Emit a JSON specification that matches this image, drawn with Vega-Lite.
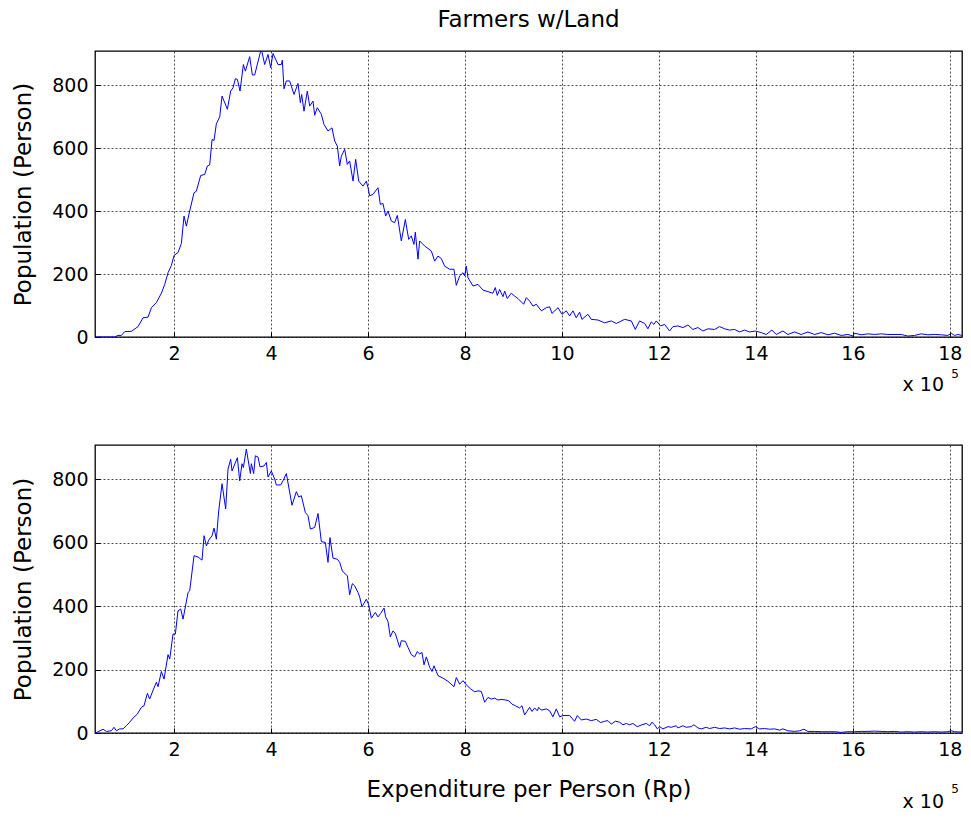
{
  "$schema": "https://vega.github.io/schema/vega-lite/v6.json",
  "background": "white",
  "padding": {"left": 12, "top": 8, "right": 5, "bottom": 5},
  "config": {
    "font": "DejaVu Sans",
    "view": {"stroke": "#000", "strokeWidth": 1.3},
    "axis": {
      "domain": false, "grid": true, "gridColor": "#000", "gridDash": [2, 2], "gridOpacity": 0.7, "gridWidth": 1,
      "tickColor": "#000", "tickSize": -5, "labelFont": "DejaVu Sans", "labelFontSize": 19, "labelColor": "#000",
      "labelFlush": false, "labelOverlap": false,
      "titleFont": "DejaVu Sans", "titleFontSize": 23, "titleFontWeight": "normal", "titleColor": "#000"
    }
  },
  "datasets": {
    "top": [
      {"exp":0.37,"pop":0},{"exp":0.777,"pop":0},{"exp":0.845,"pop":5},{"exp":0.914,"pop":5},{"exp":0.983,"pop":17},{"exp":1.12,"pop":18},{"exp":1.258,"pop":33},{"exp":1.361,"pop":61},{"exp":1.464,"pop":63},{"exp":1.533,"pop":93},{"exp":1.636,"pop":109},{"exp":1.739,"pop":139},{"exp":1.808,"pop":167},{"exp":1.876,"pop":204},{"exp":1.945,"pop":227},{"exp":2.0,"pop":259},{"exp":2.082,"pop":268},{"exp":2.151,"pop":297},{"exp":2.206,"pop":384},{"exp":2.254,"pop":352},{"exp":2.323,"pop":400},{"exp":2.412,"pop":458},{"exp":2.46,"pop":463},{"exp":2.55,"pop":513},{"exp":2.632,"pop":516},{"exp":2.687,"pop":543},{"exp":2.735,"pop":546},{"exp":2.784,"pop":627},{"exp":2.825,"pop":624},{"exp":2.873,"pop":677},{"exp":2.942,"pop":699},{"exp":2.99,"pop":765},{"exp":3.1,"pop":723},{"exp":3.168,"pop":781},{"exp":3.216,"pop":791},{"exp":3.265,"pop":820},{"exp":3.306,"pop":818},{"exp":3.361,"pop":781},{"exp":3.43,"pop":865},{"exp":3.471,"pop":844},{"exp":3.56,"pop":890},{"exp":3.615,"pop":832},{"exp":3.663,"pop":832},{"exp":3.787,"pop":908},{"exp":3.814,"pop":905},{"exp":3.869,"pop":865},{"exp":3.938,"pop":897},{"exp":3.993,"pop":855},{"exp":4.041,"pop":900},{"exp":4.144,"pop":865},{"exp":4.213,"pop":865},{"exp":4.233,"pop":879},{"exp":4.268,"pop":788},{"exp":4.316,"pop":813},{"exp":4.385,"pop":813},{"exp":4.474,"pop":770},{"exp":4.557,"pop":805},{"exp":4.605,"pop":744},{"exp":4.632,"pop":770},{"exp":4.68,"pop":717},{"exp":4.749,"pop":781},{"exp":4.797,"pop":733},{"exp":4.866,"pop":749},{"exp":4.9,"pop":704},{"exp":4.955,"pop":728},{"exp":5.038,"pop":707},{"exp":5.093,"pop":675},{"exp":5.175,"pop":654},{"exp":5.258,"pop":664},{"exp":5.313,"pop":622},{"exp":5.368,"pop":606},{"exp":5.416,"pop":543},{"exp":5.45,"pop":574},{"exp":5.519,"pop":596},{"exp":5.574,"pop":548},{"exp":5.622,"pop":559},{"exp":5.691,"pop":495},{"exp":5.746,"pop":564},{"exp":5.808,"pop":495},{"exp":5.897,"pop":479},{"exp":5.966,"pop":495},{"exp":6.0,"pop":474},{"exp":6.035,"pop":448},{"exp":6.103,"pop":453},{"exp":6.206,"pop":474},{"exp":6.254,"pop":421},{"exp":6.309,"pop":424},{"exp":6.364,"pop":384},{"exp":6.412,"pop":400},{"exp":6.481,"pop":368},{"exp":6.55,"pop":363},{"exp":6.605,"pop":386},{"exp":6.687,"pop":305},{"exp":6.77,"pop":373},{"exp":6.839,"pop":310},{"exp":6.893,"pop":321},{"exp":6.948,"pop":294},{"exp":6.976,"pop":333},{"exp":7.031,"pop":247},{"exp":7.065,"pop":305},{"exp":7.168,"pop":289},{"exp":7.306,"pop":273},{"exp":7.375,"pop":241},{"exp":7.443,"pop":257},{"exp":7.512,"pop":249},{"exp":7.581,"pop":225},{"exp":7.684,"pop":215},{"exp":7.773,"pop":215},{"exp":7.821,"pop":164},{"exp":7.89,"pop":194},{"exp":7.959,"pop":204},{"exp":7.993,"pop":194},{"exp":8.027,"pop":225},{"exp":8.062,"pop":188},{"exp":8.165,"pop":162},{"exp":8.268,"pop":167},{"exp":8.371,"pop":149},{"exp":8.474,"pop":144},{"exp":8.577,"pop":139},{"exp":8.625,"pop":157},{"exp":8.666,"pop":132},{"exp":8.715,"pop":151},{"exp":8.784,"pop":128},{"exp":8.818,"pop":146},{"exp":8.873,"pop":122},{"exp":8.955,"pop":139},{"exp":9.024,"pop":130},{"exp":9.093,"pop":122},{"exp":9.21,"pop":104},{"exp":9.265,"pop":125},{"exp":9.334,"pop":114},{"exp":9.402,"pop":98},{"exp":9.471,"pop":104},{"exp":9.574,"pop":83},{"exp":9.677,"pop":93},{"exp":9.746,"pop":96},{"exp":9.794,"pop":75},{"exp":9.918,"pop":93},{"exp":10.0,"pop":72},{"exp":10.089,"pop":83},{"exp":10.158,"pop":67},{"exp":10.227,"pop":83},{"exp":10.295,"pop":61},{"exp":10.364,"pop":79},{"exp":10.412,"pop":56},{"exp":10.536,"pop":72},{"exp":10.604,"pop":56},{"exp":10.742,"pop":54},{"exp":10.88,"pop":45},{"exp":11.017,"pop":51},{"exp":11.12,"pop":43},{"exp":11.292,"pop":56},{"exp":11.43,"pop":51},{"exp":11.512,"pop":24},{"exp":11.601,"pop":51},{"exp":11.705,"pop":43},{"exp":11.773,"pop":26},{"exp":11.842,"pop":48},{"exp":11.897,"pop":40},{"exp":11.945,"pop":51},{"exp":12.034,"pop":35},{"exp":12.117,"pop":40},{"exp":12.22,"pop":19},{"exp":12.289,"pop":33},{"exp":12.392,"pop":35},{"exp":12.495,"pop":30},{"exp":12.598,"pop":38},{"exp":12.701,"pop":24},{"exp":12.804,"pop":30},{"exp":12.907,"pop":19},{"exp":13.01,"pop":26},{"exp":13.148,"pop":24},{"exp":13.251,"pop":33},{"exp":13.354,"pop":26},{"exp":13.457,"pop":22},{"exp":13.56,"pop":24},{"exp":13.664,"pop":16},{"exp":13.767,"pop":22},{"exp":13.87,"pop":16},{"exp":13.986,"pop":19},{"exp":14.11,"pop":14},{"exp":14.213,"pop":8},{"exp":14.33,"pop":22},{"exp":14.419,"pop":8},{"exp":14.557,"pop":19},{"exp":14.66,"pop":8},{"exp":14.797,"pop":16},{"exp":14.935,"pop":8},{"exp":15.072,"pop":16},{"exp":15.21,"pop":8},{"exp":15.347,"pop":14},{"exp":15.485,"pop":7},{"exp":15.622,"pop":12},{"exp":15.759,"pop":5},{"exp":15.897,"pop":8},{"exp":16.0,"pop":3},{"exp":16.034,"pop":12},{"exp":16.172,"pop":7},{"exp":16.309,"pop":10},{"exp":16.447,"pop":8},{"exp":16.584,"pop":10},{"exp":16.722,"pop":8},{"exp":16.996,"pop":8},{"exp":17.134,"pop":3},{"exp":17.272,"pop":5},{"exp":17.409,"pop":10},{"exp":17.546,"pop":7},{"exp":17.684,"pop":8},{"exp":17.821,"pop":7},{"exp":17.959,"pop":5},{"exp":18.027,"pop":12},{"exp":18.096,"pop":5},{"exp":18.165,"pop":8},{"exp":18.247,"pop":5}
    ],
    "bottom": [
      {"exp":0.378,"pop":0},{"exp":0.433,"pop":4},{"exp":0.536,"pop":12},{"exp":0.605,"pop":5},{"exp":0.708,"pop":7},{"exp":0.763,"pop":18},{"exp":0.811,"pop":7},{"exp":0.879,"pop":13},{"exp":0.948,"pop":13},{"exp":1.017,"pop":23},{"exp":1.086,"pop":34},{"exp":1.155,"pop":47},{"exp":1.244,"pop":60},{"exp":1.326,"pop":81},{"exp":1.381,"pop":86},{"exp":1.45,"pop":125},{"exp":1.498,"pop":107},{"exp":1.567,"pop":135},{"exp":1.636,"pop":160},{"exp":1.67,"pop":146},{"exp":1.739,"pop":194},{"exp":1.794,"pop":170},{"exp":1.876,"pop":247},{"exp":1.911,"pop":233},{"exp":1.979,"pop":312},{"exp":2.027,"pop":312},{"exp":2.082,"pop":385},{"exp":2.138,"pop":391},{"exp":2.186,"pop":359},{"exp":2.289,"pop":443},{"exp":2.323,"pop":448},{"exp":2.412,"pop":559},{"exp":2.495,"pop":555},{"exp":2.577,"pop":545},{"exp":2.619,"pop":622},{"exp":2.667,"pop":590},{"exp":2.715,"pop":608},{"exp":2.784,"pop":622},{"exp":2.825,"pop":646},{"exp":2.873,"pop":611},{"exp":2.921,"pop":700},{"exp":2.99,"pop":786},{"exp":3.065,"pop":706},{"exp":3.113,"pop":832},{"exp":3.168,"pop":863},{"exp":3.196,"pop":826},{"exp":3.306,"pop":868},{"exp":3.354,"pop":795},{"exp":3.402,"pop":849},{"exp":3.43,"pop":837},{"exp":3.491,"pop":895},{"exp":3.574,"pop":818},{"exp":3.594,"pop":849},{"exp":3.643,"pop":818},{"exp":3.677,"pop":874},{"exp":3.732,"pop":870},{"exp":3.773,"pop":839},{"exp":3.856,"pop":842},{"exp":3.904,"pop":853},{"exp":3.938,"pop":807},{"exp":4.007,"pop":826},{"exp":4.076,"pop":800},{"exp":4.11,"pop":782},{"exp":4.199,"pop":782},{"exp":4.247,"pop":795},{"exp":4.316,"pop":818},{"exp":4.433,"pop":718},{"exp":4.522,"pop":761},{"exp":4.571,"pop":744},{"exp":4.625,"pop":748},{"exp":4.708,"pop":695},{"exp":4.763,"pop":685},{"exp":4.811,"pop":643},{"exp":4.9,"pop":648},{"exp":4.969,"pop":692},{"exp":5.038,"pop":603},{"exp":5.12,"pop":601},{"exp":5.175,"pop":538},{"exp":5.216,"pop":616},{"exp":5.278,"pop":551},{"exp":5.368,"pop":548},{"exp":5.416,"pop":538},{"exp":5.471,"pop":511},{"exp":5.533,"pop":501},{"exp":5.574,"pop":496},{"exp":5.622,"pop":436},{"exp":5.677,"pop":471},{"exp":5.725,"pop":464},{"exp":5.794,"pop":443},{"exp":5.828,"pop":429},{"exp":5.876,"pop":398},{"exp":5.966,"pop":422},{"exp":6.014,"pop":404},{"exp":6.069,"pop":362},{"exp":6.151,"pop":380},{"exp":6.206,"pop":366},{"exp":6.261,"pop":377},{"exp":6.33,"pop":394},{"exp":6.364,"pop":366},{"exp":6.412,"pop":352},{"exp":6.46,"pop":303},{"exp":6.515,"pop":322},{"exp":6.563,"pop":314},{"exp":6.605,"pop":293},{"exp":6.653,"pop":270},{"exp":6.687,"pop":291},{"exp":6.77,"pop":289},{"exp":6.825,"pop":270},{"exp":6.893,"pop":247},{"exp":6.962,"pop":240},{"exp":7.017,"pop":257},{"exp":7.065,"pop":249},{"exp":7.113,"pop":254},{"exp":7.155,"pop":215},{"exp":7.203,"pop":240},{"exp":7.272,"pop":207},{"exp":7.32,"pop":194},{"exp":7.361,"pop":212},{"exp":7.409,"pop":194},{"exp":7.443,"pop":181},{"exp":7.546,"pop":173},{"exp":7.649,"pop":163},{"exp":7.773,"pop":146},{"exp":7.821,"pop":175},{"exp":7.89,"pop":154},{"exp":7.959,"pop":165},{"exp":8.027,"pop":152},{"exp":8.117,"pop":139},{"exp":8.2,"pop":130},{"exp":8.268,"pop":133},{"exp":8.337,"pop":131},{"exp":8.406,"pop":97},{"exp":8.474,"pop":112},{"exp":8.543,"pop":107},{"exp":8.612,"pop":110},{"exp":8.68,"pop":104},{"exp":8.763,"pop":106},{"exp":8.831,"pop":104},{"exp":8.9,"pop":102},{"exp":8.969,"pop":91},{"exp":9.038,"pop":86},{"exp":9.127,"pop":79},{"exp":9.175,"pop":86},{"exp":9.23,"pop":57},{"exp":9.278,"pop":68},{"exp":9.334,"pop":81},{"exp":9.381,"pop":68},{"exp":9.437,"pop":79},{"exp":9.491,"pop":70},{"exp":9.52,"pop":81},{"exp":9.574,"pop":72},{"exp":9.677,"pop":76},{"exp":9.746,"pop":70},{"exp":9.814,"pop":51},{"exp":9.883,"pop":76},{"exp":9.952,"pop":51},{"exp":10.021,"pop":55},{"exp":10.158,"pop":55},{"exp":10.261,"pop":37},{"exp":10.316,"pop":55},{"exp":10.399,"pop":41},{"exp":10.502,"pop":44},{"exp":10.604,"pop":39},{"exp":10.708,"pop":43},{"exp":10.797,"pop":33},{"exp":10.88,"pop":37},{"exp":10.948,"pop":39},{"exp":11.017,"pop":28},{"exp":11.1,"pop":37},{"exp":11.189,"pop":34},{"exp":11.258,"pop":26},{"exp":11.326,"pop":30},{"exp":11.395,"pop":26},{"exp":11.464,"pop":30},{"exp":11.553,"pop":20},{"exp":11.649,"pop":26},{"exp":11.739,"pop":30},{"exp":11.808,"pop":23},{"exp":11.856,"pop":34},{"exp":11.911,"pop":26},{"exp":11.966,"pop":13},{"exp":12.014,"pop":20},{"exp":12.082,"pop":13},{"exp":12.186,"pop":20},{"exp":12.254,"pop":18},{"exp":12.357,"pop":23},{"exp":12.392,"pop":16},{"exp":12.495,"pop":23},{"exp":12.563,"pop":18},{"exp":12.666,"pop":20},{"exp":12.722,"pop":26},{"exp":12.804,"pop":16},{"exp":12.873,"pop":13},{"exp":12.976,"pop":18},{"exp":13.045,"pop":14},{"exp":13.148,"pop":18},{"exp":13.251,"pop":14},{"exp":13.354,"pop":16},{"exp":13.457,"pop":13},{"exp":13.56,"pop":16},{"exp":13.664,"pop":12},{"exp":13.767,"pop":14},{"exp":13.904,"pop":13},{"exp":13.986,"pop":20},{"exp":14.076,"pop":13},{"exp":14.179,"pop":14},{"exp":14.282,"pop":12},{"exp":14.385,"pop":13},{"exp":14.488,"pop":9},{"exp":14.557,"pop":13},{"exp":14.66,"pop":7},{"exp":14.797,"pop":5},{"exp":14.9,"pop":7},{"exp":14.99,"pop":12},{"exp":15.072,"pop":5},{"exp":15.21,"pop":5},{"exp":15.347,"pop":4},{"exp":15.485,"pop":4},{"exp":15.622,"pop":4},{"exp":15.759,"pop":2},{"exp":15.897,"pop":4},{"exp":16.034,"pop":4},{"exp":16.172,"pop":5},{"exp":16.309,"pop":5},{"exp":16.447,"pop":6},{"exp":16.584,"pop":5},{"exp":16.722,"pop":4},{"exp":16.86,"pop":5},{"exp":16.996,"pop":3},{"exp":17.134,"pop":4},{"exp":17.272,"pop":3},{"exp":17.409,"pop":4},{"exp":17.546,"pop":3},{"exp":17.684,"pop":4},{"exp":17.821,"pop":3},{"exp":17.959,"pop":4},{"exp":18.027,"pop":7},{"exp":18.096,"pop":4},{"exp":18.247,"pop":3}
    ]
  },
  "bounds": "flush",
  "spacing": 108,
  "vconcat": [
    {
      "width": 867,
      "height": 286,
      "title": {"text": "Farmers w/Land", "font": "DejaVu Sans", "fontSize": 23, "fontWeight": "normal", "color": "#000", "offset": 19, "anchor": "middle", "frame": "group"},
      "layer": [
        {
          "data": {"name": "top"},
          "mark": {"type": "line", "color": "#0000ff", "strokeWidth": 1, "clip": true},
          "encoding": {
            "x": {"field": "exp", "type": "quantitative", "scale": {"domain": [0.37, 18.25], "nice": false, "zero": false},
                  "axis": {"values": [2, 4, 6, 8, 10, 12, 14, 16, 18], "title": null, "labelPadding": 12}},
            "y": {"field": "pop", "type": "quantitative", "scale": {"domain": [0, 908], "nice": false},
                  "axis": {"values": [0, 200, 400, 600, 800], "title": "Population (Person)", "labelPadding": 12, "titlePadding": 16}}
          }
        },
        {
          "data": {"values": [{}]},
          "mark": {"type": "text", "text": "x 10", "font": "DejaVu Sans", "fontSize": 19, "align": "right", "baseline": "middle", "dx": -18, "dy": 48, "color": "#000"},
          "encoding": {"x": {"datum": 18.25}, "y": {"datum": 0}}
        },
        {
          "data": {"values": [{}]},
          "mark": {"type": "text", "text": "5", "font": "DejaVu Sans", "fontSize": 12, "align": "right", "baseline": "middle", "dx": -3, "dy": 37, "color": "#000"},
          "encoding": {"x": {"datum": 18.25}, "y": {"datum": 0}}
        }
      ]
    },
    {
      "width": 867,
      "height": 288,
      "layer": [
        {
          "data": {"name": "bottom"},
          "mark": {"type": "line", "color": "#0000ff", "strokeWidth": 1, "clip": true},
          "encoding": {
            "x": {"field": "exp", "type": "quantitative", "scale": {"domain": [0.37, 18.25], "nice": false, "zero": false},
                  "axis": {"values": [2, 4, 6, 8, 10, 12, 14, 16, 18], "title": "Expenditure per Person (Rp)", "labelPadding": 12, "titlePadding": 19}},
            "y": {"field": "pop", "type": "quantitative", "scale": {"domain": [0, 908], "nice": false},
                  "axis": {"values": [0, 200, 400, 600, 800], "title": "Population (Person)", "labelPadding": 12, "titlePadding": 16}}
          }
        },
        {
          "data": {"values": [{}]},
          "mark": {"type": "text", "text": "x 10", "font": "DejaVu Sans", "fontSize": 19, "align": "right", "baseline": "middle", "dx": -18, "dy": 69, "color": "#000"},
          "encoding": {"x": {"datum": 18.25}, "y": {"datum": 0}}
        },
        {
          "data": {"values": [{}]},
          "mark": {"type": "text", "text": "5", "font": "DejaVu Sans", "fontSize": 12, "align": "right", "baseline": "middle", "dx": -3, "dy": 56, "color": "#000"},
          "encoding": {"x": {"datum": 18.25}, "y": {"datum": 0}}
        }
      ]
    }
  ]
}
